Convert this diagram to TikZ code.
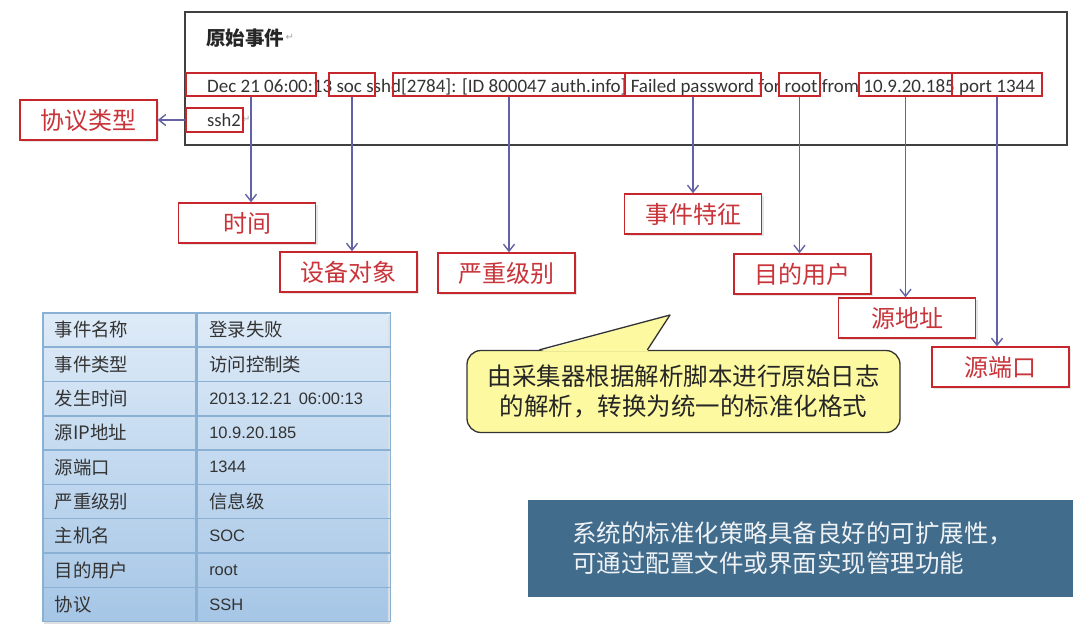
\documentclass[tikz,border=0pt]{standalone}
\usepackage{fontspec}
\usepackage{xcolor}
\usepackage{tikz}
\usetikzlibrary{arrows.meta, positioning, calc, fit, shadows}
\newfontfamily\cjk{Noto Sans CJK SC}
\newfontfamily\logf{Carlito}
\newfontfamily\latf{Liberation Sans}
\newfontfamily\symf{DejaVu Sans}
\newcommand{\lat}[1]{{\latf\fontsize{16.5}{19}\selectfont #1}}
\definecolor{boxred}{RGB}{198,38,44}
\definecolor{txtred}{RGB}{200,52,58}
\definecolor{linkc}{RGB}{98,98,165}
\definecolor{tabtop}{RGB}{222,235,248}
\definecolor{tabbot}{RGB}{166,198,230}
\definecolor{tabline}{RGB}{138,176,212}
\definecolor{notey}{RGB}{252,249,160}
\definecolor{steel}{RGB}{66,108,140}

\begin{document}
\begin{tikzpicture}[x=1pt, y=-1pt,
  hl/.style    = {draw=boxred, line width=1.4pt, inner sep=0pt},
  tag/.style   = {draw=boxred, line width=1.4pt, fill=white, minimum width=137pt,
                  minimum height=40pt, text=txtred, font=\cjk\fontsize{24}{28}\selectfont,
                  drop shadow={shadow xshift=2pt, shadow yshift=-2pt, opacity=0.2}},
  conn/.style  = {-{Straight Barb[length=7pt,width=11pt]}, linkc, line width=1.4pt},
  cell/.style  = {draw=tabline, line width=1.5pt, minimum height=34.33pt, inner xsep=12pt,
                  align=left, anchor=north west, font=\cjk\fontsize{18.4}{22}\selectfont,
                  text=black!80},
  retm/.style  = {anchor=west, inner sep=1pt, text=black!35, font=\symf\fontsize{10}{12}\selectfont},
]
\useasboundingbox (0,0) rectangle (1083,638);

% ── Raw event box ─────────────────────────────────────────────────────────────
\node[draw=black!75, line width=1.8pt, minimum width=882pt, minimum height=133pt]
      (raw) at (626,78.5) {};
\node[anchor=base west, inner sep=0pt, text=black!85,
      font=\cjk\bfseries\fontsize{19.5}{22}\selectfont] (title) at (206,45) {原始事件};
\node[retm] at (title.east) {↵};
\node[anchor=base west, inner sep=0pt, text=black!80, font=\logf\fontsize{19}{21}\selectfont]
      (logline) at (207,92)
      {Dec 21 06:00:13 soc sshd[2784]: [ID 800047 auth.info] Failed password for root from 10.9.20.185 port 1344};
\node[anchor=base west, inner sep=0pt, text=black!80, font=\logf\fontsize{18.5}{21}\selectfont]
      (ssh) at (207,126) {ssh2};
\node[retm] at (ssh.east) {↵};

% ── Highlighted fields ────────────────────────────────────────────────────────
\node[hl, fit={(186,73) (316,96)}]  (hTime)  {};
\node[hl, fit={(329,73) (375,96)}]  (hHost)  {};
\node[hl, fit={(393,73) (625,96)}]  (hLevel) {};
\node[hl, fit={(625,73) (761,96)}]  (hFeat)  {};
\node[hl, fit={(779,73) (820,96)}]  (hUser)  {};
\node[hl, fit={(859,73) (952,96)}]  (hSrc)   {};
\node[hl, fit={(952,73) (1042,96)}] (hPort)  {};
\node[hl, fit={(186,108) (243,132)}] (hProto) {};

% ── Field labels ──────────────────────────────────────────────────────────────
\node[tag] (tProto) at (88.5,120)  {协议类型};
\node[tag] (tTime)  at (247,223)   {时间};
\node[tag] (tHost)  at (348.5,272) {设备对象};
\node[tag] (tLevel) at (506.5,273) {严重级别};
\node[tag] (tFeat)  at (693,214)   {事件特征};
\node[tag] (tUser)  at (802.5,274) {目的用户};
\node[tag] (tSrc)   at (907,318)   {源地址};
\node[tag] (tPort)  at (1000.5,367){源端口};

% ── Field arrows ──────────────────────────────────────────────────────────────
\draw[conn] (hProto.west) -- (tProto.east);
\foreach \f in {Time, Host, Level, Feat, User, Src, Port}
  \draw[conn] (h\f.south) -- (h\f.south |- t\f.north);

% ── Normalised table ──────────────────────────────────────────────────────────
\path[top color=tabtop, bottom color=tabbot,
      drop shadow={shadow xshift=2pt, shadow yshift=-3pt, opacity=0.25}]
      (42,312) rectangle (388,621);
\foreach \k/\v [count=\i] in {事件名称/登录失败, 事件类型/访问控制类,
    发生时间/\lat{2013.12.21\hspace{7pt}06:00:13}, 源IP地址/\lat{10.9.20.185},
    源端口/\lat{1344}, 严重级别/信息级, 主机名/\lat{SOC},
    目的用户/\lat{root}, 协议/\lat{SSH}} {
  \node[cell, text width=129pt] (k\i) at (42,{312+34.33*(\i-1)}) {\k};
  \node[cell, text width=169pt] (v\i) at (k\i.north east) {\v};
}

% ── Callout ───────────────────────────────────────────────────────────────────
\node[draw=black!80, fill=notey, line width=1.3pt, rounded corners=14pt,
      minimum width=433pt, minimum height=82pt, align=center,
      font=\cjk\fontsize{24.5}{30}\selectfont, text=black!85]
      (note) at (683.5,391.5) {由采集器根据解析脚本进行原始日志\\的解析，转换为统一的标准化格式};
\coordinate (tip) at (670,315);
\fill[notey] ($(note.north west)+(73,1.5)$) -- (tip) -- ($(note.north west)+(181,1.5)$) -- cycle;
\draw[black!80, line width=1.3pt, line join=round]
     ($(note.north west)+(73,0)$) -- (tip) -- ($(note.north west)+(181,0)$);

% ── Policy note ───────────────────────────────────────────────────────────────
\node[fill=steel, minimum height=97pt, text width=457pt, inner xsep=44pt, align=left,
      text=white!92!steel, font=\cjk\fontsize{24.5}{30}\selectfont]
      (policy) at (800.5,548.5) {系统的标准化策略具备良好的可扩展性，\\可通过配置文件或界面实现管理功能};

\end{tikzpicture}
\end{document}
